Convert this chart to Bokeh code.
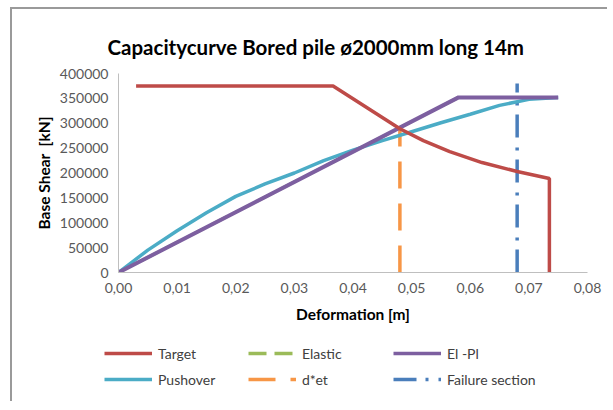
from bokeh.plotting import figure
from bokeh.models import Legend, LegendItem, CustomJSTickFormatter, FixedTicker, Range1d
from bokeh.embed import file_html
from bokeh.resources import INLINE

# ---- data ----
target_x = [0.003, 0.0366, 0.048, 0.052, 0.0565, 0.062, 0.068, 0.0735, 0.0735]
target_y = [375000, 375000, 289000, 265000, 243000, 221000, 203000, 189000, 0]

elpl_x = [0.0, 0.058, 0.075]
elpl_y = [0, 352000, 352000]

push_x = [0.0, 0.005, 0.01, 0.015, 0.02, 0.025, 0.03, 0.035, 0.04, 0.045,
          0.05, 0.055, 0.06, 0.065, 0.07, 0.075]
push_y = [0, 45000, 84000, 120000, 153000, 178000, 200000, 225000, 246000, 265000,
          283000, 301000, 318000, 336000, 348000, 352000]

# elastic branch lies under the El-Pl line (not visible in the picture)
elastic_x = [0.0, 0.058]
elastic_y = [0, 352000]

det_x = [0.048, 0.048]
det_y = [0, 290000]

fail_x = [0.068, 0.068]
fail_y = [0, 380000]

x_ticks = [0.0, 0.01, 0.02, 0.03, 0.04, 0.05, 0.06, 0.07, 0.08]
y_ticks = [0, 50000, 100000, 150000, 200000, 250000, 300000, 350000, 400000]

series_names = ["Target", "Elastic", "El -Pl", "Pushover", "d*et", "Failure section"]
series_colors = ["#BE4B48", "#9BBB59", "#7D5FA0", "#4BACC6", "#F79646", "#4A7EBB"]
series_dash = ["solid", "18 8", "solid", "solid", "27 15", "23 9 3 10"]
series_x = [target_x, elastic_x, elpl_x, push_x, det_x, fail_x]
series_y = [target_y, elastic_y, elpl_y, push_y, det_y, fail_y]

FONT = "Lato"
TXT = "#404040"
W = 3.5

p = figure(width=597, height=326, output_backend="svg", toolbar_location=None,
           title="Capacitycurve Bored pile ø2000mm long 14m",
           x_range=Range1d(0, 0.08), y_range=Range1d(0, 400000),
           min_border_left=106, min_border_right=22, min_border_top=64,
           min_border_bottom=63)
p.styles = {"margin-left": "10px", "margin-top": "7px",
            "border-left": "2px solid #9a9a9a", "border-top": "2px solid #9a9a9a"}
p.title.align = "left"
p.title.offset = -11
p.title.text_font = FONT
p.title.text_font_size = "20.5px"
p.title.text_font_style = "bold"
p.title.text_color = "#000000"
p.title.standoff = 30

p.outline_line_color = None
p.xgrid.visible = False
p.ygrid.visible = False

for ax in (p.xaxis[0], p.yaxis[0]):
    ax.axis_line_color = "#bfbfbf"
    ax.axis_line_width = 1
    ax.major_tick_line_color = None
    ax.minor_tick_line_color = None
    ax.major_tick_out = 0
    ax.major_tick_in = 0
    ax.minor_tick_out = 0
    ax.minor_tick_in = 0
    ax.major_label_text_font = FONT
    ax.major_label_text_font_size = "14px"
    ax.major_label_text_color = "#595959"
    ax.axis_label_text_font = FONT
    ax.axis_label_text_font_style = "bold"
    ax.axis_label_text_color = "#000000"
    ax.axis_label_text_font_size = "15.5px"

p.xaxis.ticker = FixedTicker(ticks=x_ticks)
p.yaxis.ticker = FixedTicker(ticks=y_ticks)
p.xaxis.formatter = CustomJSTickFormatter(code="return tick.toFixed(2).replace('.', ',');")
p.yaxis.formatter = CustomJSTickFormatter(code="return Math.round(tick).toString();")
p.xaxis.axis_label = "Deformation [m]"
p.yaxis.axis_label = "Base Shear\u00a0 [kN]"
p.xaxis.major_label_standoff = 10
p.yaxis.major_label_standoff = 10
p.xaxis.axis_label_standoff = 9
p.yaxis.axis_label_standoff = 4

# drawing order: elastic and dashed verticals first, then curves
order = [1, 4, 5, 3, 2, 0]
for i in order:
    lw = W + 0.5 if i == 2 else (W - 0.5 if i == 1 else W)
    p.line(series_x[i], series_y[i], line_color=series_colors[i], line_width=lw,
           line_dash=series_dash[i])

# ---- legend strip: separate root so it is not clipped by the plot frame ----
lf = figure(width=597, height=68, output_backend="svg", toolbar_location=None,
            x_range=Range1d(-2, -1), y_range=Range1d(-2, -1),
            min_border=0, x_axis_location=None, y_axis_location=None)
lf.styles = {"margin-left": "10px", "border-left": "2px solid #9a9a9a"}
lf.outline_line_color = None
lf.xgrid.visible = False
lf.ygrid.visible = False

lr = []
for i in range(6):
    lr.append(lf.line(series_x[i], series_y[i], line_color=series_colors[i],
                      line_width=W, line_dash=series_dash[i]))

cols = [([0, 3], 92), ([1, 4], 236), ([2, 5], 381)]
for idxs, xloc in cols:
    leg = Legend(items=[LegendItem(label=series_names[i], renderers=[lr[i]]) for i in idxs],
                 location=(xloc, 12), orientation="vertical",
                 padding=0, margin=0, spacing=6, label_height=20, glyph_height=20,
                 glyph_width=48, label_standoff=6,
                 label_text_font=FONT, label_text_font_size="14px",
                 label_text_color=TXT, background_fill_alpha=0,
                 border_line_color=None)
    lf.add_layout(leg, "center")

open("out.html", "w").write(file_html([p, lf], INLINE))
